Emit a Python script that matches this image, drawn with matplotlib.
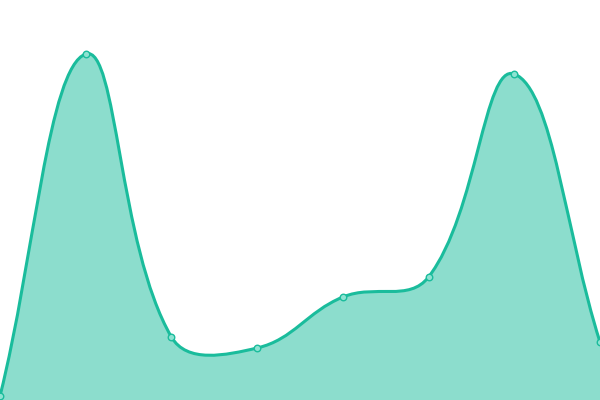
import numpy as np
import matplotlib
matplotlib.use("Agg")
import matplotlib.pyplot as plt
from matplotlib.path import Path
from matplotlib.patches import PathPatch

categories = ["A", "B", "C", "D", "E", "F", "G", "H"]
values = [4, 346, 63, 52, 103, 123, 326, 58]

LINE = "#1abc9c"
FILL = (26/255, 188/255, 156/255, 0.5)
TENSION = 0.4

fig = plt.figure(figsize=(6, 4), dpi=100)
ax = fig.add_axes([0, 0, 1, 1])
ax.set_xlim(0, len(categories) - 1)
ax.set_ylim(0, 400)
ax.axis("off")

xs = np.arange(len(categories), dtype=float)
pts = ax.transData.transform(np.column_stack([xs, values]))

n = len(pts)
cps_prev = []
cps_next = []
for i in range(n):
    p = pts[i]
    prev = pts[i - 1] if i > 0 else p
    nxt = pts[i + 1] if i < n - 1 else p
    d01 = np.hypot(*(p - prev))
    d12 = np.hypot(*(nxt - p))
    s01 = d01 / (d01 + d12) if d01 + d12 else 0
    s12 = d12 / (d01 + d12) if d01 + d12 else 0
    fa = TENSION * s01
    fb = TENSION * s12
    cps_prev.append(p - fa * (nxt - prev))
    cps_next.append(p + fb * (nxt - prev))

verts = [pts[0]]
codes = [Path.MOVETO]
for i in range(n - 1):
    verts += [cps_next[i], cps_prev[i + 1], pts[i + 1]]
    codes += [Path.CURVE4] * 3

inv = ax.transData.inverted()
dverts = inv.transform(np.array(verts))
line_path = Path(dverts, codes)

fill_verts = list(dverts) + [[xs[-1], 0], [xs[0], 0], dverts[0]]
fill_codes = codes + [Path.LINETO, Path.LINETO, Path.CLOSEPOLY]
ax.add_patch(PathPatch(Path(fill_verts, fill_codes), facecolor=FILL, edgecolor="none", zorder=1))
ax.add_patch(PathPatch(line_path, facecolor="none", edgecolor=LINE, lw=2.2, zorder=2))
ax.scatter(xs, values, s=22, facecolor="#8ee3d2", edgecolor=LINE, linewidth=1, zorder=3, clip_on=True)

fig.savefig("out.png", dpi=100)
